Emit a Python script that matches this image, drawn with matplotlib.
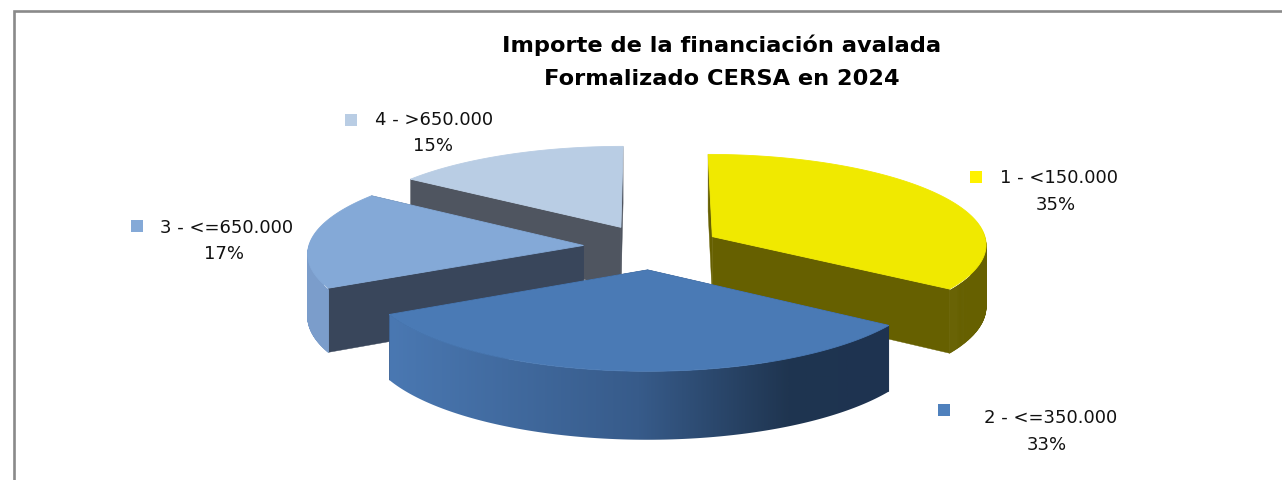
import numpy as np
import matplotlib
matplotlib.use("Agg")
import matplotlib.pyplot as plt
from matplotlib.patches import Polygon, Rectangle
from matplotlib.collections import PolyCollection
from matplotlib.colors import LinearSegmentedColormap

# data
categories = ["1 - <150.000", "2 - <=350.000", "3 - <=650.000", "4 - >650.000"]
values = [34.6, 32.8, 17.4, 15.2]
title_lines = ["Importe de la financiación avalada", "Formalizado CERSA en 2024"]

# styles
top_colors = ["#f0e900", "#4a7ab5", "#84a9d7", "#b9cde4"]
wall_colors = ["#666000", "#1e3350", "#39465b", "#4f5560"]
key_colors = ["#fff200", "#4f81bd", "#84a9d7", "#b9cde4"]
rim_colors = ["#666000", None, "#7b9dcb", "#b9cde4"]
blue_rim = LinearSegmentedColormap.from_list(
    "rim", [(0, "#4a78b2"), (0.5, "#375b8a"), (0.8, "#1f3550"), (1, "#1e3350")])
draw_order = [3, 2, 0, 1]

# label placement: key x, key y, text x, name y, pct x, pct y
label_pos = [(970, 171, 1000, 178, 1056, 205),
             (938, 404, 984, 418, 1047, 445),
             (131, 220, 160, 228, 224, 254),
             (345, 114, 375, 120, 433, 146)]

CX, CY, RX, RY, K, EXPLODE, DEPTH = 652, 247, 275, 90, 0.076, 0.25, 62


def project(X, V, drop=0.0):
    s = 1.0 / (1.0 - K * np.asarray(V))
    return CX + RX * np.asarray(X) * s, CY + (RY * np.asarray(V) + drop) * s


fig = plt.figure(figsize=(12.82, 4.8), dpi=100, facecolor="white")
ax = fig.add_axes([0, 0, 1, 1])
ax.axis("off")

# frame
ax.plot([13.5, 13.5, 1282], [480, 11, 11], color="#8a8a8a", lw=1.9,
        solid_joinstyle="miter", zorder=1)

edges = np.deg2rad(np.cumsum([0] + values) / np.sum(values) * 360)

z = 2
for i in draw_order:
    a0, a1 = edges[i], edges[i + 1]
    mid = (a0 + a1) / 2
    ox, ov = EXPLODE * np.sin(mid), -EXPLODE * np.cos(mid)
    th = np.linspace(a0, a1, 300)
    ux, uv = ox + np.sin(th), ov - np.cos(th)

    # radial walls, the one further back first
    walls = sorted([a0, a1], key=lambda a: -np.cos(a))
    for a in walls:
        ex, ev = ox + np.sin(a), ov - np.cos(a)
        p = [project(ox, ov), project(ex, ev), project(ex, ev, DEPTH), project(ox, ov, DEPTH)]
        ax.add_patch(Polygon([(float(x), float(y)) for x, y in p], closed=True,
                             fc=wall_colors[i], ec=wall_colors[i], lw=0.3, zorder=z))
        z += 1

    # outer rim: front part, plus a margin hidden by the top face so the silhouette stays smooth
    mask = np.cos(th) <= 0.25
    if mask.any():
        xb, yb = project(ux[mask], uv[mask], DEPTH)
        if rim_colors[i] is None:
            xt, yt = project(ux[mask], uv[mask])
            outline = np.column_stack([np.r_[xt, xb[::-1]], np.r_[yt, yb[::-1]]])
            patch = Polygon(outline, closed=True, fc="none", ec="none", zorder=z)
            ax.add_patch(patch)
            grad = np.linspace(0, 1, 512).reshape(1, -1)
            im = ax.imshow(grad, cmap=blue_rim, aspect="auto", interpolation="bilinear",
                           extent=(xt.min(), xt.max(), yb.max() + 1, yt.min() - 1), zorder=z)
            im.set_clip_path(patch)
        else:
            xt, yt = project(ux[mask], uv[mask], 1.5)
            quads = [[(xt[j], yt[j]), (xt[j + 1], yt[j + 1]), (xb[j + 1], yb[j + 1]), (xb[j], yb[j])]
                     for j in range(len(xt) - 1)]
            ax.add_collection(PolyCollection(quads, facecolors=rim_colors[i],
                                             edgecolors=rim_colors[i], linewidths=0.5, zorder=z))
        z += 1

    # top face
    xs, ys = project(ux, uv)
    ax0, ay0 = project(ox, ov)
    pts = [(float(ax0), float(ay0))] + list(zip(xs, ys))
    ax.add_patch(Polygon(pts, closed=True, fc=top_colors[i], ec=top_colors[i], lw=0.6, zorder=z))
    z += 1

# title
for line, y in zip(title_lines, [45, 79]):
    ax.text(722, y, line, ha="center", va="center", fontsize=16.2,
            fontweight="bold", family="DejaVu Sans", color="black", zorder=50)

# labels
for i, (kx, ky, tx, ty, px, py) in enumerate(label_pos):
    ax.add_patch(Rectangle((kx, ky), 12, 12, fc=key_colors[i], ec="none", zorder=50))
    ax.text(tx, ty, categories[i], ha="left", va="center", fontsize=13,
            family="DejaVu Sans", color="#111111", zorder=50)
    ax.text(px, py, f"{values[i] / sum(values) * 100:.0f}%", ha="center", va="center",
            fontsize=13, family="DejaVu Sans", color="#111111", zorder=50)

ax.set_xlim(0, 1282)
ax.set_ylim(480, 0)
fig.savefig("out.png", dpi=100, facecolor="white")
